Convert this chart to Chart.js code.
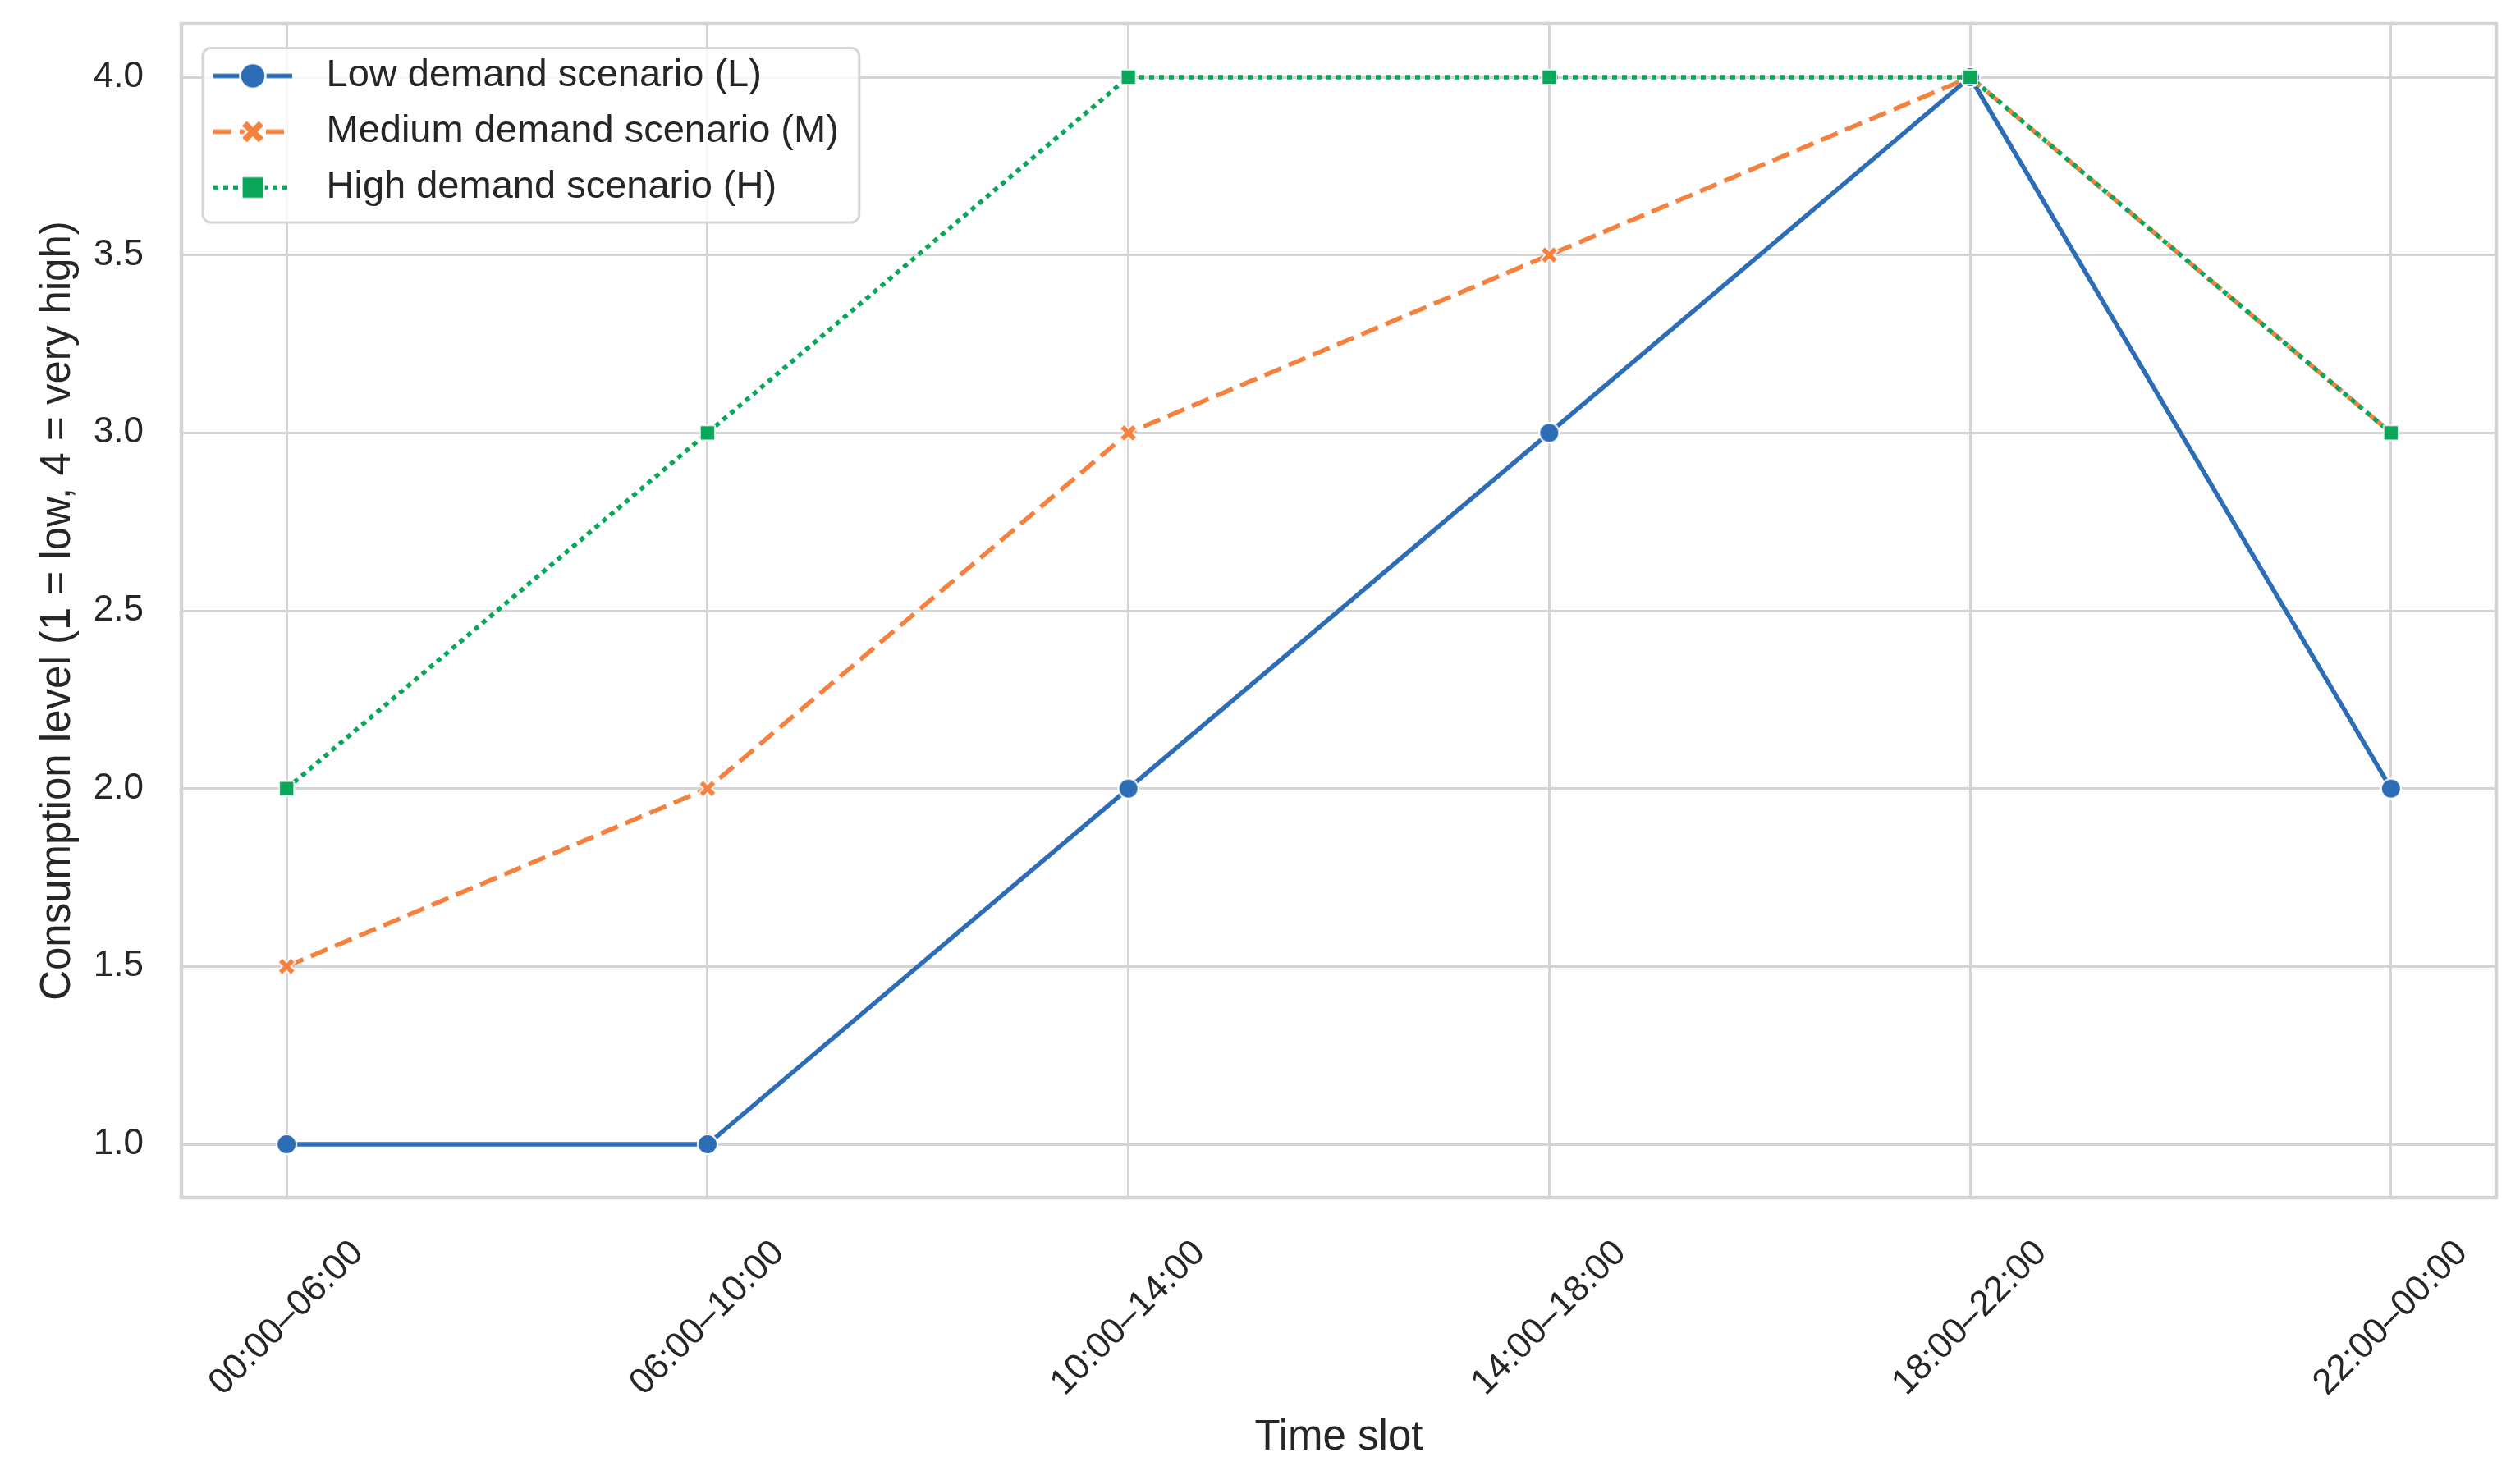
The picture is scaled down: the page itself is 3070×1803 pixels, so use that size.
<!DOCTYPE html>
<html>
<head>
<meta charset="utf-8">
<script src="https://cdn.jsdelivr.net/npm/chart.js@4.4.1/dist/chart.umd.min.js"></script>
<style>
  html, body { margin: 0; padding: 0; background: #ffffff; }
  canvas { display: block; }
</style>
</head>
<body>
<canvas id="chart" width="3070" height="1803"></canvas>
<script>
// data
const timeSlots = ['00:00–06:00', '06:00–10:00', '10:00–14:00', '14:00–18:00', '18:00–22:00', '22:00–00:00'];
const lowDemand = [1, 1, 2, 3, 4, 2];
const mediumDemand = [1.5, 2, 3, 3.5, 4, 3];
const highDemand = [2, 3, 4, 4, 4, 3];
const yTicks = [1.0, 1.5, 2.0, 2.5, 3.0, 3.5, 4.0];

const seriesNames = ['Low demand scenario (L)', 'Medium demand scenario (M)', 'High demand scenario (H)'];
const seriesColors = ['#2c6db6', '#f5813f', '#0aa65a'];
const seriesDash = [[], [22, 10], [6, 6]];
const seriesMarkers = ['circle', 'x', 'square'];

const FONT = "'Liberation Sans', Arial, sans-serif";
const TEXT = '#262626';
const GRID = '#d4d4d4';

Chart.defaults.font.family = FONT;

function drawMarker(ctx, shape, cx, cy, size, color) {
  ctx.fillStyle = color;
  ctx.strokeStyle = '#ffffff';
  ctx.lineWidth = Math.max(1.5, size * 0.08);
  ctx.setLineDash([]);
  ctx.beginPath();
  if (shape === 'circle') {
    ctx.arc(cx, cy, size / 2, 0, Math.PI * 2);
  } else if (shape === 'square') {
    ctx.rect(cx - size / 2, cy - size / 2, size, size);
  } else {
    // filled X (plus rotated by 45 degrees)
    const R = (size / 2) / 0.943, a = R / 3;
    const pts = [[-a, -R], [a, -R], [a, -a], [R, -a], [R, a], [a, a], [a, R], [-a, R], [-a, a], [-R, a], [-R, -a], [-a, -a]];
    pts.forEach((p, i) => {
      const x = cx + (p[0] - p[1]) * Math.SQRT1_2;
      const y = cy + (p[0] + p[1]) * Math.SQRT1_2;
      if (i === 0) ctx.moveTo(x, y); else ctx.lineTo(x, y);
    });
  }
  ctx.closePath();
  ctx.fill();
  ctx.stroke();
}

function markerImage(shape, color, size) {
  const c = document.createElement('canvas');
  c.width = c.height = Math.ceil(size + 6);
  drawMarker(c.getContext('2d'), shape, c.width / 2, c.height / 2, size, color);
  return c;
}

function legendHandle(i) {
  const c = document.createElement('canvas');
  c.width = 100;
  c.height = 40;
  const ctx = c.getContext('2d');
  ctx.strokeStyle = seriesColors[i];
  ctx.lineWidth = 5.5;
  ctx.setLineDash(seriesDash[i]);
  ctx.beginPath();
  ctx.moveTo(2, 20);
  ctx.lineTo(98, 20);
  ctx.stroke();
  const sizes = {circle: 31, x: 29, square: 27};
  drawMarker(ctx, seriesMarkers[i], 50, 20, sizes[seriesMarkers[i]], seriesColors[i]);
  return c;
}

const plotSizes = {circle: 24, x: 21, square: 18};
const seriesValues = [lowDemand, mediumDemand, highDemand];
const handles = seriesValues.map((_, i) => legendHandle(i));

const datasets = seriesValues.map((vals, i) => ({
  label: seriesNames[i],
  data: vals.map((v, k) => ({x: k, y: v})),
  borderColor: seriesColors[i],
  backgroundColor: seriesColors[i],
  borderWidth: 5.5,
  borderDash: seriesDash[i],
  borderJoinStyle: 'round',
  tension: 0,
  fill: false,
  pointStyle: markerImage(seriesMarkers[i], seriesColors[i], plotSizes[seriesMarkers[i]]),
  pointRadius: 10,
  order: seriesValues.length - 1 - i   // high scenario on top, like the reference
}));

// light grey frame round the plot area
const plotFrame = {
  id: 'plotFrame',
  beforeDatasetsDraw(chart) {
    const {ctx, chartArea: a} = chart;
    ctx.save();
    ctx.strokeStyle = GRID;
    ctx.lineWidth = 4.5;
    ctx.strokeRect(a.left, a.top, a.right - a.left, a.bottom - a.top);
    ctx.restore();
  }
};

// rounded, semi-transparent box behind the legend
const legendFrame = {
  id: 'legendFrame',
  afterUpdate(chart) {
    const lg = chart.legend;
    if (!lg || lg._framed) return;
    const draw = lg.draw.bind(lg);
    lg.draw = function (area) {
      const hb = lg.legendHitBoxes || [];
      if (hb.length) {
        const left = Math.min(...hb.map(b => b.left)) + 5;
        const top = hb[0].top - 10.5;
        const right = Math.max(...hb.map(b => b.left + b.width)) + 25;
        const last = hb[hb.length - 1];
        const bottom = last.top + last.height + 19;
        const ctx = chart.ctx;
        ctx.save();
        ctx.beginPath();
        ctx.roundRect(left, top, right - left, bottom - top, 10);
        ctx.fillStyle = 'rgba(255,255,255,0.8)';
        ctx.fill();
        ctx.strokeStyle = '#d6d6d6';
        ctx.lineWidth = 3;
        ctx.stroke();
        ctx.restore();
      }
      draw(area);
    };
    lg._framed = true;
  }
};

new Chart(document.getElementById('chart'), {
  type: 'line',
  data: { datasets },
  plugins: [plotFrame, legendFrame],
  options: {
    responsive: false,
    devicePixelRatio: 1,
    animation: false,
    events: [],
    layout: { padding: { top: 29, right: 29, left: 0, bottom: 0 } },
    plugins: {
      tooltip: { enabled: false },
      legend: {
        position: 'chartArea',
        align: 'start',
        // the empty title only pushes the rows down to where the reference has them
        title: { display: true, text: '', font: { size: 10 }, padding: { top: 0, bottom: 36 } },
        labels: {
          usePointStyle: true,
          pointStyleWidth: 132,
          padding: 21,
          color: TEXT,
          font: { size: 47 },
          generateLabels: chart => chart.data.datasets.map((ds, i) => ({
            text: ds.label,
            fillStyle: ds.borderColor,
            strokeStyle: ds.borderColor,
            fontColor: TEXT,
            lineWidth: 0,
            pointStyle: handles[i],
            hidden: false,
            datasetIndex: i
          }))
        }
      }
    },
    scales: {
      x: {
        type: 'linear',
        min: -0.25,
        max: 5.25,
        afterBuildTicks: s => { s.ticks = timeSlots.map((_, i) => ({ value: i })); },
        afterFit: s => { s.height = 344; s.paddingLeft = 0; s.paddingRight = 0; },
        grid: { color: GRID, lineWidth: 3, drawTicks: false },
        border: { display: false },
        ticks: {
          autoSkip: false,
          minRotation: 45,
          maxRotation: 45,
          labelOffset: 86.5,
          padding: 42,
          color: TEXT,
          font: { size: 44 },
          callback: v => timeSlots[Math.round(v)]
        },
        title: { display: true, text: 'Time slot', color: TEXT, font: { size: 51 }, padding: { top: 0, bottom: 20 } }
      },
      y: {
        min: 0.85,
        max: 4.15,
        afterBuildTicks: s => { s.ticks = yTicks.map(v => ({ value: v })); },
        afterFit: s => { s.width = 221; s.paddingTop = 0; s.paddingBottom = 0; },
        grid: { color: GRID, lineWidth: 3, drawTicks: false },
        border: { display: false },
        ticks: {
          padding: 46,
          color: TEXT,
          font: { size: 44 },
          callback: v => Number(v).toFixed(1)
        },
        title: {
          display: true,
          text: 'Consumption level (1 = low, 4 = very high)',
          color: TEXT,
          font: { size: 51 },
          padding: { top: 40, bottom: 0 }
        }
      }
    }
  }
});
</script>
</body>
</html>
